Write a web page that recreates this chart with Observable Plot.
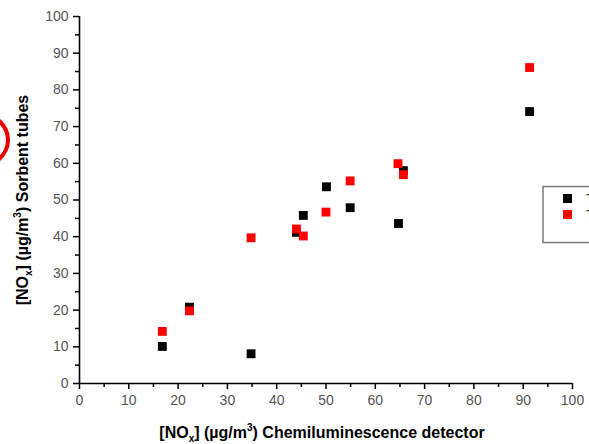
<!DOCTYPE html>
<html>
<head>
<meta charset="utf-8">
<script src="https://cdn.jsdelivr.net/npm/d3@7"></script>
<script src="https://cdn.jsdelivr.net/npm/@observablehq/plot@0.6"></script>
<style>
  html, body { margin: 0; padding: 0; background: #fff; }
  #chart { width: 589px; height: 444px; overflow: hidden; position: relative; }
  svg { font-family: "Liberation Sans", Arial, sans-serif; }
</style>
</head>
<body>
<div id="chart"></div>
<script>
// Chemiluminescence detector [NOx] (x) vs sorbent tube [NOx] (y)
const seriesNames = ["Tube 1", "Tube 2"];
const blackX = [16.8, 22.3, 34.8, 44.0, 45.4, 50.1, 54.9, 64.7, 65.7, 91.3];
const blackY = [10.1, 20.8, 8.1, 41.2, 45.8, 53.6, 47.9, 43.6, 58.0, 74.1];
const redX   = [16.8, 22.3, 34.8, 44.0, 45.4, 50.0, 54.9, 64.6, 65.7, 91.3];
const redY   = [14.2, 19.8, 39.7, 42.1, 40.2, 46.7, 55.2, 59.9, 56.9, 86.1];
const majorTicks = [0, 10, 20, 30, 40, 50, 60, 70, 80, 90, 100];
const minorTicks = [5, 15, 25, 35, 45, 55, 65, 75, 85, 95];
const colors = ["#000000", "#ff0000"];

const data = [
  ...blackX.map((x, i) => ({x, y: blackY[i], s: seriesNames[0]})),
  ...redX.map((x, i) => ({x, y: redY[i], s: seriesNames[1]}))
];

const W = 589, H = 444;
const plot = Plot.plot({
  width: W,
  height: H,
  marginLeft: 79,
  marginRight: 17,
  marginTop: 16,
  marginBottom: 61,
  style: {fontFamily: "Liberation Sans, Arial, sans-serif", background: "#fff", overflow: "visible"},
  x: {domain: [0, 100]},
  y: {domain: [0, 100]},
  color: {domain: seriesNames, range: colors},
  marks: [
    Plot.axisX({ticks: majorTicks, tickSize: 6, tickPadding: 6, fontSize: 14, color: "#555", stroke: "#000", strokeWidth: 1.5, strokeOpacity: 1, label: null}),
    Plot.axisX({ticks: minorTicks, tickSize: 4, text: null, stroke: "#000", strokeWidth: 1.5, strokeOpacity: 1, label: null}),
    Plot.axisY({ticks: majorTicks, tickSize: 6, tickPadding: 5, fontSize: 14, color: "#555", stroke: "#000", strokeWidth: 1.5, strokeOpacity: 1, label: null}),
    Plot.axisY({ticks: minorTicks, tickSize: 4, text: null, stroke: "#000", strokeWidth: 1.5, strokeOpacity: 1, label: null}),
    Plot.ruleY([0], {stroke: "#000", strokeWidth: 1.6}),
    Plot.ruleX([0], {stroke: "#000", strokeWidth: 1.6}),
    Plot.dot(data, {x: "x", y: "y", fill: "s", symbol: "square", r: 5, stroke: null})
  ]
});
document.getElementById("chart").appendChild(plot);

const svg = d3.select(plot);
// axis titles
function title(sel, rest) {
  sel.append("tspan").text("[NO");
  sel.append("tspan").attr("font-size", 10).attr("dy", 4).text("x");
  sel.append("tspan").attr("dy", -4).text("] (µg/m");
  sel.append("tspan").attr("font-size", 10).attr("dy", -7).text("3");
  sel.append("tspan").attr("dy", 7).text(rest);
}
const xt = svg.append("text")
  .attr("x", 322).attr("y", 438)
  .attr("text-anchor", "middle")
  .attr("font-weight", "bold").attr("font-size", 16).attr("fill", "#000");
title(xt, ") Chemiluminescence detector");

const yt = svg.append("text")
  .attr("transform", "translate(28,200) rotate(-90)")
  .attr("text-anchor", "middle")
  .attr("font-weight", "bold").attr("font-size", 16).attr("fill", "#000");
title(yt, ") Sorbent tubes");

// legend (cut off at right edge, as in reference)
const lg = svg.append("g");
lg.append("rect").attr("x", 543).attr("y", 186.5).attr("width", 120).attr("height", 56)
  .attr("fill", "#fff").attr("stroke", "#777").attr("stroke-width", 1.5);
seriesNames.forEach((name, i) => {
  lg.append("rect").attr("x", 563).attr("y", 194 + i * 16).attr("width", 9).attr("height", 9).attr("fill", colors[i]);
  lg.append("text").attr("x", 586).attr("y", 204 + i * 16).attr("text-anchor", "start")
    .attr("font-size", 14).attr("fill", "#333").text(name);
});

// red annotation circle partially visible at left edge
svg.append("ellipse").attr("cx", -58).attr("cy", 140).attr("rx", 66).attr("ry", 38)
  .attr("fill", "none").attr("stroke", "#ee0000").attr("stroke-width", 4);
</script>
</body>
</html>
